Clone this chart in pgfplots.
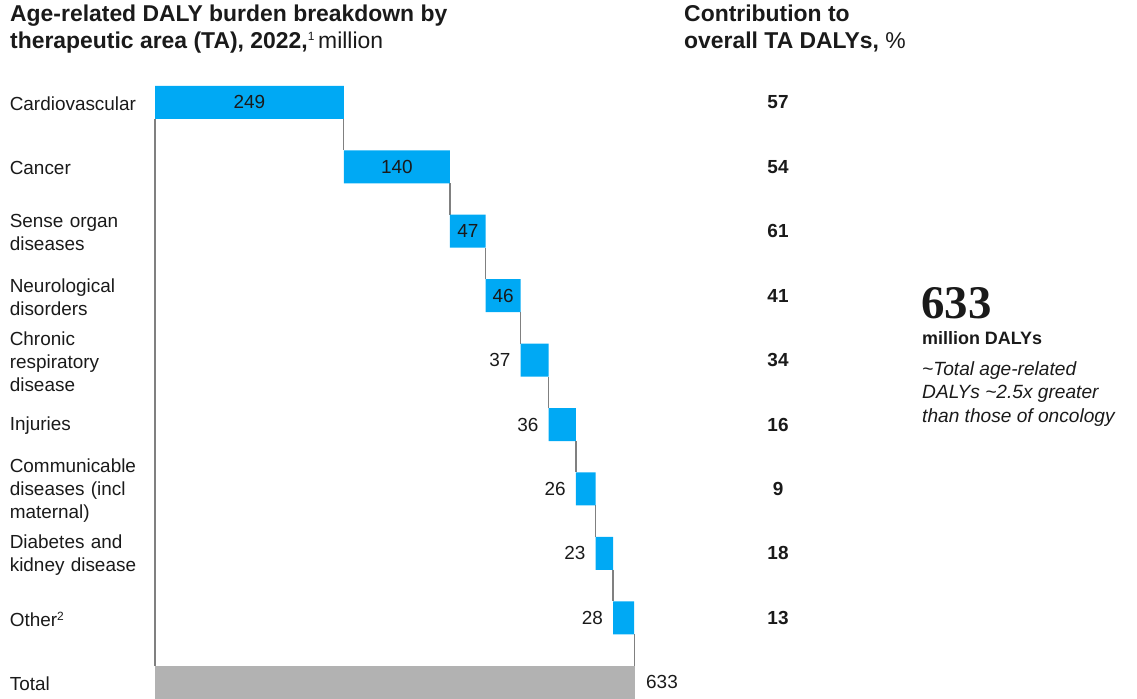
\documentclass[border=0pt]{standalone}
\usepackage{fontspec}
\setmainfont{Liberation Sans}
\newfontfamily\bigserif{Liberation Serif}
\usepackage{pgfplots}
\pgfplotsset{compat=1.18}
\usepackage{pgfplotstable}
\definecolor{bblue}{HTML}{00A9F4}
\definecolor{tgray}{HTML}{B2B2B2}
\definecolor{lgray}{HTML}{808080}
\definecolor{txt}{HTML}{1A1A1A}
\newcommand{\lblfont}{\fontsize{19}{23}\selectfont}
\newcommand{\ttlfont}{\fontsize{23}{27}\selectfont}
\tikzset{
  vlab/.style={text=txt, font=\lblfont, inner sep=0pt},
  plab/.style={text=txt, font=\lblfont\bfseries, inner sep=0pt},
  conn/.style={lgray, line width=1.3bp},
}

\pgfplotstableread{
y off val tot
0 0 249 0
1 249 140 0
2 389 47 0
3 436 46 0
4 482 37 0
5 519 36 0
6 555 26 0
7 581 23 0
8 604 28 0
9 0 0 633
}\wftable

\begin{document}
\begin{tikzpicture}
\useasboundingbox (0,0) rectangle (1137bp,-699bp);
% titles
\node[anchor=base west, inner sep=0pt, text=txt, font=\ttlfont] at (10bp,-21bp) {\textbf{Age-related DALY burden breakdown by}};
\node[anchor=base west, inner sep=0pt, text=txt, font=\ttlfont] at (10bp,-48bp) {\textbf{therapeutic area (TA), 2022,}\raisebox{8bp}{\fontsize{12}{12}\selectfont 1}\,million};
\node[anchor=base west, inner sep=0pt, text=txt, font=\ttlfont] at (684bp,-21bp) {\textbf{Contribution to}};
\node[anchor=base west, inner sep=0pt, text=txt, font=\ttlfont] at (684bp,-48bp) {\textbf{overall TA DALYs,} \%};
% side annotation
\node[anchor=base west, inner sep=0pt, text=txt, font=\fontsize{47}{50}\bigserif\bfseries] at (921bp,-318bp) {633};
\node[anchor=base west, inner sep=0pt, text=txt, font=\fontsize{18}{22}\selectfont\bfseries] at (922bp,-344bp) {million DALYs};
\node[anchor=base west, inner sep=0pt, text=txt, font=\fontsize{19.2}{23}\selectfont\itshape] at (922bp,-375bp) {\textasciitilde Total age-related};
\node[anchor=base west, inner sep=0pt, text=txt, font=\fontsize{19.2}{23}\selectfont\itshape] at (922bp,-398.5bp) {DALYs \textasciitilde 2.5x greater};
\node[anchor=base west, inner sep=0pt, text=txt, font=\fontsize{19.2}{23}\selectfont\itshape] at (922bp,-422bp) {than those of oncology};

\begin{axis}[
  at={(155bp,-698.8bp)}, anchor=south west,
  scale only axis, width=480bp, height=628.7bp,
  xmin=0, xmax=633, ymin=-0.5, ymax=9.256, y dir=reverse,
  xbar stacked, bar width=33bp,
  axis line style={draw=none},
  xtick=\empty, ytick={0,1,2,3,4,5,6,7,8,9},
  yticklabels={Cardiovascular, Cancer, {Sense organ\\diseases}, {Neurological\\disorders}, {Chronic\\respiratory\\disease}, Injuries, {Communicable\\diseases (incl\\maternal)}, {Diabetes and\\kidney disease}, {Other\raisebox{6.5bp}{\fontsize{12}{12}\selectfont 2}}, Total},
  major tick length=0pt,
  yticklabel style={font=\lblfont, text width=145bp, align=left, inner sep=0pt, text=txt, yshift=-1.5bp},
  clip=false,
]
\addplot[draw=none, fill=none] table[x=off, y=y] {\wftable};
\addplot[draw=none, fill=bblue] table[x=val, y=y] {\wftable};
\addplot[draw=none, fill=tgray] table[x=tot, y=y] {\wftable};

% connectors
\draw[conn] (axis cs:0,0.256) -- (axis cs:0,8.744);
\draw[conn] (axis cs:249,0.256) -- (axis cs:249,0.744);
\draw[conn] (axis cs:389,1.256) -- (axis cs:389,1.744);
\draw[conn] (axis cs:436,2.256) -- (axis cs:436,2.744);
\draw[conn] (axis cs:482,3.256) -- (axis cs:482,3.744);
\draw[conn] (axis cs:519,4.256) -- (axis cs:519,4.744);
\draw[conn] (axis cs:555,5.256) -- (axis cs:555,5.744);
\draw[conn] (axis cs:581,6.256) -- (axis cs:581,6.744);
\draw[conn] (axis cs:604,7.256) -- (axis cs:604,7.744);
\draw[conn] (axis cs:632,8.256) -- (axis cs:632,8.744);

% anchor points for value labels
\coordinate (v0) at (axis cs:124.5,0);
\coordinate (v1) at (axis cs:319,1);
\coordinate (v2) at (axis cs:412.5,2);
\coordinate (v3) at (axis cs:459,3);
\coordinate (v4) at (axis cs:482,4);
\coordinate (v5) at (axis cs:519,5);
\coordinate (v6) at (axis cs:555,6);
\coordinate (v7) at (axis cs:581,7);
\coordinate (v8) at (axis cs:604,8);
\coordinate (v9) at (axis cs:633,9);

% contribution column
\node[plab] at (axis cs:821.6,0) {57};
\node[plab] at (axis cs:821.6,1) {54};
\node[plab] at (axis cs:821.6,2) {61};
\node[plab] at (axis cs:821.6,3) {41};
\node[plab] at (axis cs:821.6,4) {34};
\node[plab] at (axis cs:821.6,5) {16};
\node[plab] at (axis cs:821.6,6) {9};
\node[plab] at (axis cs:821.6,7) {18};
\node[plab] at (axis cs:821.6,8) {13};
\end{axis}
\node[vlab] at (v0) {249};
\node[vlab] at (v1) {140};
\node[vlab] at (v2) {47};
\node[vlab] at (v3) {46};
\node[vlab, anchor=east, xshift=-10bp] at (v4) {37};
\node[vlab, anchor=east, xshift=-10bp] at (v5) {36};
\node[vlab, anchor=east, xshift=-10bp] at (v6) {26};
\node[vlab, anchor=east, xshift=-10bp] at (v7) {23};
\node[vlab, anchor=east, xshift=-10bp] at (v8) {28};
\node[vlab, anchor=west, xshift=11bp] at (v9) {633};
\end{tikzpicture}
\end{document}
